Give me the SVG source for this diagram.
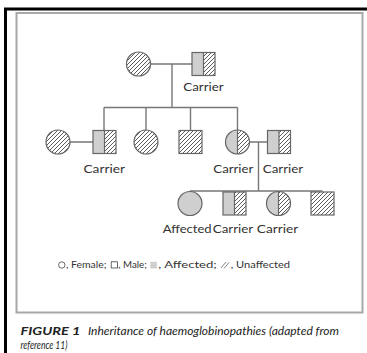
<svg xmlns="http://www.w3.org/2000/svg" width="367" height="353" viewBox="0 0 367 353">
<defs>
<pattern id="hatch" patternUnits="userSpaceOnUse" width="4" height="4">
<path d="M-1,1 L1,-1 M0,4 L4,0 M3,5 L5,3" stroke="#4a4a4a" stroke-width="0.9"/>
</pattern>
<style>
.ln{stroke:#777;stroke-width:1.4;fill:none}
.sh{stroke:#666;stroke-width:1.2}
.h{fill:url(#hatch)}
.g{fill:#cfcfcf}
.lbl{font-family:Lato,"Liberation Sans",sans-serif;font-size:11px;fill:#333}
.leg{font-family:Lato,"Liberation Sans",sans-serif;font-size:9.5px;fill:#333}
.cap{font-family:Lato,"Liberation Sans",sans-serif;font-size:10.5px;font-style:italic;fill:#222}
</style>
</defs>
<rect width="367" height="353" fill="#fff"/>
<path d="M5.5,353 V9 H367" stroke="#000" stroke-width="3" fill="none"/>
<rect x="16.5" y="13" width="346" height="299.5" fill="none" stroke="#a8a8a8" stroke-width="2"/>
<g id="connectors">
<path class="ln" d="M150.5,64 H192 M172,64 V107.5 M104,107.5 H237.5 M104,107.5 V130.5 M146,107.5 V130 M190.5,107.5 V130.5 M237.5,107.5 V130 M70,142 H93 M249.5,142 H267.5 M258.5,142 V191 M190,191 H322.5"/>
</g>
<g id="g1-mother"><circle class="sh h" cx="138.5" cy="64" r="12"/></g>
<g id="g1-father">
<rect class="g" x="192" y="52.5" width="11.5" height="23"/>
<rect class="h" x="203.5" y="52.5" width="11.5" height="23"/>
<rect class="sh" fill="none" x="192" y="52.5" width="23" height="23"/>
<line class="sh" x1="203.5" y1="52.5" x2="203.5" y2="75.5"/>
<text class="lbl" x="203.5" y="91" text-anchor="middle" textLength="40.5" lengthAdjust="spacingAndGlyphs">Carrier</text>
</g>
<g id="g2-wife"><circle class="sh h" cx="58" cy="142" r="12"/></g>
<g id="g2-son1">
<rect class="g" x="93" y="130.5" width="11.5" height="23"/>
<rect class="h" x="104.5" y="130.5" width="11.5" height="23"/>
<rect class="sh" fill="none" x="93" y="130.5" width="23" height="23"/>
<line class="sh" x1="104.5" y1="130.5" x2="104.5" y2="153.5"/>
<text class="lbl" x="104.2" y="173.3" text-anchor="middle" textLength="41.5" lengthAdjust="spacingAndGlyphs">Carrier</text>
</g>
<g id="g2-daughter1"><circle class="sh h" cx="146" cy="142" r="12"/></g>
<g id="g2-son2"><rect class="sh h" x="179" y="130.5" width="23" height="23"/></g>
<g id="g2-daughter2">
<path class="g" d="M237.5,130 A12,12 0 0 0 237.5,154 Z"/>
<path class="h" d="M237.5,130 A12,12 0 0 1 237.5,154 Z"/>
<circle class="sh" fill="none" cx="237.5" cy="142" r="12"/>
<line class="sh" x1="237.5" y1="130" x2="237.5" y2="154"/>
<text class="lbl" x="233.3" y="173.3" text-anchor="middle" textLength="40" lengthAdjust="spacingAndGlyphs">Carrier</text>
</g>
<g id="g2-husband">
<rect class="g" x="267.5" y="130.5" width="11.5" height="23"/>
<rect class="h" x="279" y="130.5" width="11.5" height="23"/>
<rect class="sh" fill="none" x="267.5" y="130.5" width="23" height="23"/>
<line class="sh" x1="279" y1="130.5" x2="279" y2="153.5"/>
<text class="lbl" x="283" y="173.3" text-anchor="middle" textLength="40.5" lengthAdjust="spacingAndGlyphs">Carrier</text>
</g>
<g id="g3-daughter1">
<circle class="sh g" cx="190" cy="203.5" r="12"/>
<text class="lbl" x="187.2" y="233.3" text-anchor="middle" textLength="49" lengthAdjust="spacingAndGlyphs">Affected</text>
</g>
<g id="g3-son1">
<rect class="g" x="223" y="192" width="11.5" height="23"/>
<rect class="h" x="234.5" y="192" width="11.5" height="23"/>
<rect class="sh" fill="none" x="223" y="192" width="23" height="23"/>
<line class="sh" x1="234.5" y1="192" x2="234.5" y2="215"/>
<text class="lbl" x="233" y="233.3" text-anchor="middle" textLength="40.5" lengthAdjust="spacingAndGlyphs">Carrier</text>
</g>
<g id="g3-daughter2">
<path class="g" d="M278.5,191.5 A12,12 0 0 0 278.5,215.5 Z"/>
<path class="h" d="M278.5,191.5 A12,12 0 0 1 278.5,215.5 Z"/>
<circle class="sh" fill="none" cx="278.5" cy="203.5" r="12"/>
<line class="sh" x1="278.5" y1="191.5" x2="278.5" y2="215.5"/>
<text class="lbl" x="277.5" y="233.3" text-anchor="middle" textLength="41.5" lengthAdjust="spacingAndGlyphs">Carrier</text>
</g>
<g id="g3-son2"><rect class="sh h" x="311" y="192" width="23" height="23"/></g>
<g id="legend">
<circle cx="61.8" cy="265" r="3.2" fill="none" stroke="#444" stroke-width="0.8"/>
<text class="leg" x="66" y="268.3" textLength="40.5" lengthAdjust="spacingAndGlyphs">, Female;</text>
<rect x="111.2" y="261.8" width="6.2" height="6.2" fill="none" stroke="#444" stroke-width="0.8"/>
<text class="leg" x="118.3" y="268.3" textLength="28.4" lengthAdjust="spacingAndGlyphs">, Male;</text>
<rect x="150.3" y="261.8" width="6.6" height="6.6" fill="#cfcfcf"/>
<text class="leg" x="158.3" y="268.3" textLength="58.4" lengthAdjust="spacingAndGlyphs">, Affected;</text>
<path d="M221,268 L226,262 M224,268.5 L229,262.5" stroke="#777" stroke-width="0.9" fill="none"/>
<text class="leg" x="230.7" y="268.3" textLength="59.3" lengthAdjust="spacingAndGlyphs">, Unaffected</text>
</g>
<g id="caption">
<text class="cap" x="20.5" y="335" font-weight="bold" font-size="12px" textLength="60" lengthAdjust="spacingAndGlyphs">FIGURE 1</text>
<text class="cap" x="88" y="335" textLength="251" lengthAdjust="spacingAndGlyphs">Inheritance of haemoglobinopathies (adapted from</text>
<text class="cap" x="20.5" y="349" textLength="47" lengthAdjust="spacingAndGlyphs">reference 11)</text>
</g>
</svg>
